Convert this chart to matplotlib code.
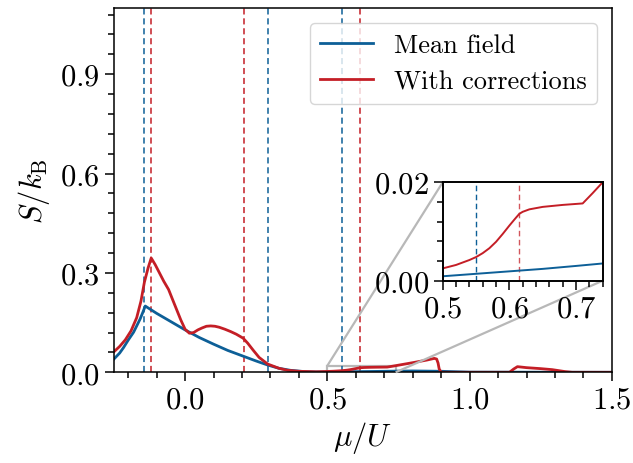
import matplotlib
matplotlib.use("Agg")
import matplotlib.pyplot as plt
from matplotlib.ticker import MultipleLocator
from mpl_toolkits.axes_grid1.inset_locator import mark_inset

plt.rcParams['font.family'] = 'serif'
plt.rcParams['font.serif'] = ['cmr10']
plt.rcParams['mathtext.fontset'] = 'cm'
plt.rcParams['axes.formatter.use_mathtext'] = True

# mean field entropy
mu_mf = [-0.25, -0.23, -0.216, -0.2, -0.181, -0.17, -0.158, -0.148, -0.14,
         -0.1, -0.05, 0.0, 0.05, 0.1, 0.15, 0.2, 0.25, 0.29, 0.33, 0.37,
         0.42, 0.46, 0.5, 0.55, 0.6, 0.65, 0.7, 0.74, 0.8, 0.9, 1.0, 1.5]
s_mf = [0.04, 0.058, 0.075, 0.097, 0.121, 0.14, 0.161, 0.182, 0.2,
        0.178, 0.153, 0.128, 0.105, 0.085, 0.066, 0.05, 0.034, 0.022, 0.012, 0.006,
        0.002, 0.0011, 0.0009, 0.0014, 0.0019, 0.0024, 0.003, 0.0035, 0.004, 0.003, 0.0005, 0.0]

# with corrections
mu_c = [-0.25, -0.23, -0.21, -0.19, -0.17, -0.155, -0.143, -0.13, -0.119,
        -0.105, -0.09, -0.075, -0.058, -0.045, -0.03, -0.015, 0.0, 0.015, 0.03,
        0.045, 0.06, 0.075, 0.09, 0.105, 0.12, 0.14, 0.16, 0.18, 0.204, 0.22,
        0.24, 0.26, 0.29, 0.33, 0.36, 0.4, 0.46, 0.5, 0.52, 0.54, 0.55, 0.56,
        0.57, 0.58, 0.59, 0.6, 0.608, 0.615, 0.62, 0.63, 0.65, 0.68, 0.71,
        0.725, 0.74, 0.8, 0.85, 0.876, 0.884, 0.889, 0.893, 0.9, 1.14, 1.155,
        1.168, 1.2, 1.25, 1.29, 1.336, 1.36, 1.5]
s_c = [0.062, 0.078, 0.098, 0.125, 0.165, 0.215, 0.272, 0.315, 0.345,
       0.325, 0.3, 0.275, 0.25, 0.222, 0.19, 0.158, 0.13, 0.118, 0.12,
       0.128, 0.134, 0.139, 0.14, 0.139, 0.136, 0.13, 0.123, 0.115, 0.103, 0.088,
       0.066, 0.045, 0.025, 0.012, 0.006, 0.003, 0.0015, 0.0025, 0.0032, 0.0042, 0.0048, 0.0056,
       0.0066, 0.0079, 0.0095, 0.0112, 0.0125, 0.0136, 0.014, 0.0145, 0.015, 0.0154, 0.0157,
       0.0178, 0.02, 0.029, 0.037, 0.042, 0.04, 0.028, 0.01, 0.0, 0.0, 0.01,
       0.017, 0.014, 0.011, 0.008, 0.002, 0.0, 0.0]

# transition points
trans_mf = [-0.143, 0.29, 0.55]
trans_c = [-0.121, 0.207, 0.615]

blue = '#0d5f97'
red = '#c41e26'

fig = plt.figure(figsize=(6.33, 4.64), dpi=100)
ax = fig.add_axes([0.180, 0.1955, 0.7867, 0.7851])

for m in trans_mf:
    ax.axvline(m, color=blue, ls=(0, (4, 2.5)), lw=1.1)
for m in trans_c:
    ax.axvline(m, color=red, ls=(0, (4, 2.5)), lw=1.1)

ax.plot(mu_mf, s_mf, color=blue, lw=2, label='Mean field')
ax.plot(mu_c, s_c, color=red, lw=2, label='With corrections')

ax.set_xlim(-0.25, 1.5)
ax.set_ylim(0, 1.1)
ax.xaxis.set_major_locator(MultipleLocator(0.5))
ax.xaxis.set_minor_locator(MultipleLocator(0.1))
ax.yaxis.set_major_locator(MultipleLocator(0.3))
ax.yaxis.set_minor_locator(MultipleLocator(0.06))
ax.tick_params(which='both', direction='out', labelsize=22, width=1.1)
ax.tick_params(which='major', length=6.5)
ax.tick_params(which='minor', length=4)
for sp in ax.spines.values():
    sp.set_linewidth(1.1)
ax.set_xlabel(r'$\mu/U$', fontsize=22, labelpad=4)
ax.set_ylabel(r'$S/k_\mathrm{B}$', fontsize=22, labelpad=6)
ax.legend(loc='upper right', fontsize=19, borderaxespad=0.55, framealpha=0.8)

axins = fig.add_axes([0.6994, 0.3929, 0.2527, 0.2121])
axins.axvline(trans_mf[2], color=blue, ls=(0, (4, 2.5)), lw=1.0)
axins.axvline(trans_c[2], color=red, ls=(0, (4, 2.5)), lw=1.0, alpha=0.75)
axins.plot(mu_mf, s_mf, color=blue, lw=1.4)
axins.plot(mu_c, s_c, color=red, lw=1.4)
axins.set_xlim(0.5, 0.74)
axins.set_ylim(0, 0.02)
axins.xaxis.set_major_locator(MultipleLocator(0.1))
axins.xaxis.set_minor_locator(MultipleLocator(0.02))
axins.yaxis.set_major_locator(MultipleLocator(0.02))
axins.yaxis.set_minor_locator(MultipleLocator(0.004))
axins.tick_params(which='both', direction='out', labelsize=22, width=1.1)
axins.tick_params(which='major', length=6.5)
axins.tick_params(which='minor', length=4)
for sp in axins.spines.values():
    sp.set_linewidth(1.4)

mark_inset(ax, axins, loc1=2, loc2=4, fc='none', ec='0.72', lw=1.6)

fig.savefig('out.png', dpi=100)
